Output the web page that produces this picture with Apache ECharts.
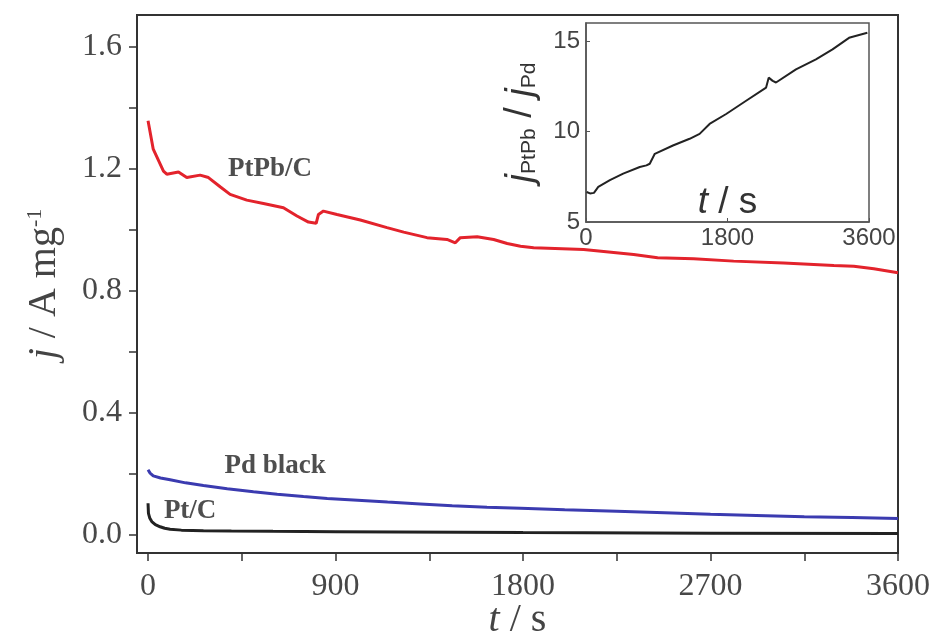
<!DOCTYPE html>
<html>
<head>
<meta charset="utf-8">
<script src="https://cdn.jsdelivr.net/npm/echarts@6/dist/echarts.min.js"></script>
<style>html,body{margin:0;padding:0;background:#fff;}#c{width:935px;height:636px;}</style>
</head>
<body>
<div id="c"></div>
<script>
// ---- main chart data ----
var tPtPb = [0,25,74,90,146,186,250,290,346,394,474,554,650,715,770,807,818,842,907,1019,1147,1227,1339,1435,1475,1499,1580,1659,1724,1788,1851,2091,2331,2446,2619,2811,3051,3292,3388,3484,3600];
var jPtPb = [1.358,1.265,1.193,1.183,1.190,1.172,1.180,1.172,1.142,1.117,1.098,1.087,1.073,1.046,1.026,1.022,1.051,1.062,1.051,1.033,1.008,0.993,0.975,0.969,0.958,0.975,0.978,0.969,0.956,0.947,0.942,0.936,0.920,0.909,0.906,0.898,0.892,0.884,0.881,0.873,0.860];
var tPd = [0,10,25,60,106,180,266,380,506,620,746,860,986,1150,1307,1460,1627,1788,2000,2250,2480,2700,2920,3150,3380,3600];
var jPd = [0.214,0.203,0.194,0.187,0.181,0.171,0.162,0.152,0.142,0.134,0.126,0.120,0.115,0.108,0.102,0.096,0.091,0.088,0.083,0.078,0.073,0.068,0.064,0.060,0.057,0.054];
var tPt = [0,2,8,18,35,58,80,106,160,266,400,600,900,1200,1800,2700,3600];
var jPt = [0.104,0.071,0.056,0.044,0.034,0.027,0.022,0.019,0.016,0.014,0.013,0.012,0.011,0.010,0.008,0.006,0.005];
// ---- inset data ----
var tRatio = [8,51,101,156,304,473,684,769,811,875,1106,1318,1445,1572,1783,2037,2291,2324,2375,2417,2671,2925,3136,3346,3579];
var ratio = [6.66,6.58,6.61,6.94,7.31,7.67,8.04,8.13,8.22,8.77,9.23,9.60,9.87,10.42,10.97,11.70,12.43,12.98,12.80,12.71,13.44,13.99,14.54,15.18,15.46];
// ---- ticks ----
var xTickVals = [0,450,900,1350,1800,2250,2700,3150,3600];
var xLabelVals = [0,900,1800,2700,3600];
var yTickVals = [0,0.2,0.4,0.6,0.8,1.0,1.2,1.4,1.6];
var yLabelVals = [0,0.4,0.8,1.2,1.6];
var insetXLabels = [0,1800,3600];
var insetYLabels = [5,10,15];
// ---- annotations ----
var annoText = ['PtPb/C','Pd black','Pt/C'];
var annoT = [586,610,202];
var annoJ = [1.200,0.226,0.079];

function zip(a,b){return a.map(function(v,i){return [v,b[i]];});}
function plain(v){return String(v);}

var serif = 'Liberation Serif';
var sans = 'Liberation Sans';
var chart = echarts.init(document.getElementById('c'));
var option = {
  animation:false,
  backgroundColor:'#fff',
  grid:[
    {left:137,right:37,top:15,bottom:83,show:true,borderColor:'#333',borderWidth:2,backgroundColor:'#fff',containLabel:false,outerBoundsMode:'none'},
    {left:586,right:66,top:23,bottom:414,show:true,borderColor:'#555',borderWidth:1.5,backgroundColor:'#fff',containLabel:false,outerBoundsMode:'none'}
  ],
  xAxis:[
    {type:'value',gridIndex:0,min:-53,max:3600,
     axisLine:{show:true,onZero:false,lineStyle:{color:'#333',width:2}},
     axisTick:{show:true,inside:false,length:8,customValues:xTickVals,lineStyle:{color:'#333',width:1.5}},
     axisLabel:{customValues:xLabelVals,margin:18,fontFamily:serif,fontSize:32,color:'#484848',formatter:plain},
     splitLine:{show:false},
     name:'{i|t} / s',nameLocation:'middle',nameGap:47,nameMoveOverlap:false,
     nameTextStyle:{fontFamily:serif,fontSize:40,color:'#444',rich:{i:{fontFamily:serif,fontSize:40,fontStyle:'italic',color:'#444'}}}
    },
    {type:'value',gridIndex:1,min:0,max:3600,
     axisLine:{show:true,onZero:false,lineStyle:{color:'#555',width:1.5}},
     axisTick:{show:true,inside:true,length:4,customValues:insetXLabels,lineStyle:{color:'#555'}},
     axisLabel:{customValues:insetXLabels,margin:4,fontFamily:sans,fontSize:24,color:'#444',formatter:plain},
     splitLine:{show:false},
     name:'{i|t} / s',nameLocation:'middle',nameGap:-19,nameMoveOverlap:false,
     nameTextStyle:{fontFamily:sans,fontSize:37,color:'#333',verticalAlign:'middle',rich:{i:{fontFamily:sans,fontSize:37,fontStyle:'italic',color:'#333'}}}
    }
  ],
  yAxis:[
    {type:'value',gridIndex:0,min:-0.059,max:1.705,
     axisLine:{show:true,onZero:false,lineStyle:{color:'#333',width:2}},
     axisTick:{show:true,inside:false,length:8,customValues:yTickVals,lineStyle:{color:'#333',width:1.5}},
     axisLabel:{customValues:yLabelVals,margin:15,fontFamily:serif,fontSize:32,color:'#484848',
       formatter:function(v){return v.toFixed(1);}},
     splitLine:{show:false},
     name:'{i|j} / A mg{sup|-1}',nameLocation:'middle',nameGap:73,nameRotate:90,nameMoveOverlap:false,
     nameTextStyle:{fontFamily:serif,fontSize:40,color:'#444',
       rich:{i:{fontFamily:serif,fontSize:40,fontStyle:'italic',color:'#444'},
             sup:{fontFamily:serif,fontSize:22,color:'#444',verticalAlign:'top'}}}
    },
    {type:'value',gridIndex:1,min:5,max:16,
     axisLine:{show:true,onZero:false,lineStyle:{color:'#555',width:1.5}},
     axisTick:{show:true,inside:true,length:4,customValues:insetYLabels,lineStyle:{color:'#555'}},
     axisLabel:{customValues:insetYLabels,margin:6,fontFamily:sans,fontSize:24,color:'#444'},
     splitLine:{show:false},
     name:'{i|j}{sub|PtPb} / {i|j}{sub|Pd}',nameLocation:'middle',nameGap:46,nameRotate:90,nameMoveOverlap:false,
     nameTextStyle:{fontFamily:sans,fontSize:38,color:'#333',
       rich:{i:{fontFamily:sans,fontSize:38,fontStyle:'italic',color:'#333'},
             sub:{fontFamily:sans,fontSize:21,color:'#333',verticalAlign:'bottom'}}}
    }
  ],
  series:[
    {type:'line',xAxisIndex:0,yAxisIndex:0,data:zip(tPtPb,jPtPb),showSymbol:false,
     lineStyle:{color:'#e3232c',width:3},z:3},
    {type:'line',xAxisIndex:0,yAxisIndex:0,data:zip(tPd,jPd),showSymbol:false,
     lineStyle:{color:'#3b3bb0',width:3},z:3},
    {type:'line',xAxisIndex:0,yAxisIndex:0,data:zip(tPt,jPt),showSymbol:false,
     lineStyle:{color:'#222',width:3},z:3},
    {type:'scatter',xAxisIndex:0,yAxisIndex:0,symbolSize:0,silent:true,
     data:annoText.map(function(s,i){return {name:s,value:[annoT[i],annoJ[i]]};}),
     label:{show:true,position:'inside',formatter:'{b}',fontFamily:serif,fontWeight:'bold',fontSize:27,color:'#222'}},
    {type:'line',xAxisIndex:1,yAxisIndex:1,data:zip(tRatio,ratio),showSymbol:false,
     lineStyle:{color:'#222',width:2}}
  ]
};
chart.setOption(option);
</script>
</body>
</html>
